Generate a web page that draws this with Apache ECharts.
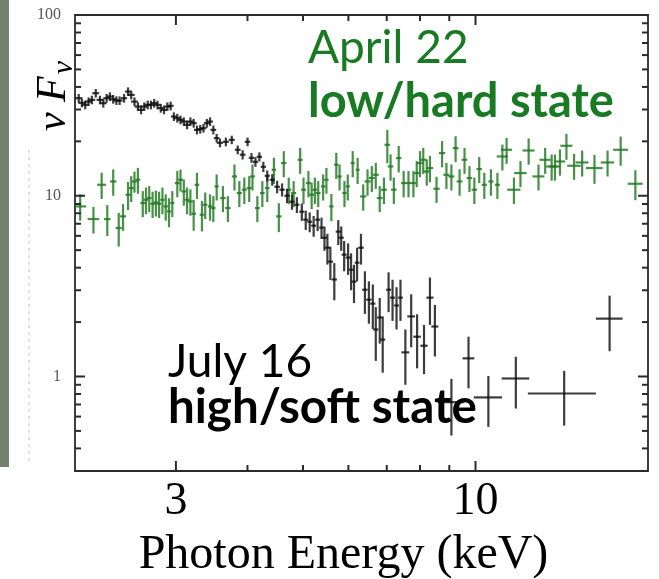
<!DOCTYPE html>
<html><head><meta charset="utf-8">
<script src="https://cdn.jsdelivr.net/npm/echarts@6/dist/echarts.min.js"></script>
<style>html,body{margin:0;padding:0;background:#fff}#c{width:659px;height:579px}</style>
</head><body><div id="c"></div>
<script>
// ---------- July 16 (high/soft state), black ----------
const julyE = [
 2.030, 2.056, 2.084, 2.112, 2.140, 2.174, 2.211, 2.241, 2.271, 2.301,
 2.332, 2.362, 2.393, 2.436, 2.475, 2.507, 2.540, 2.575, 2.608, 2.642,
 2.679, 2.714, 2.749, 2.786, 2.823, 2.860, 2.899, 2.938, 2.976, 3.017,
 3.056, 3.097, 3.138, 3.180, 3.222, 3.265, 3.308, 3.352, 3.397, 3.441,
 3.487, 3.534, 3.581, 3.667, 3.755, 3.846, 3.923, 4.001, 4.065, 4.130,
 4.196, 4.263, 4.331, 4.418, 4.506, 4.596, 4.689, 4.783, 4.878, 4.976,
 5.055, 5.136, 5.218, 5.302, 5.386, 5.450, 5.515, 5.581, 5.670, 5.761,
 5.830, 5.899, 5.993, 6.065, 6.137, 6.213, 6.311, 6.412, 6.515, 6.619,
 6.698, 6.805, 6.887, 7.052, 7.165, 7.281, 7.397, 7.544, 7.722, 7.908,
 8.131, 8.327, 8.494, 9.077, 9.723, 10.53, 11.76, 14.28, 17.14
];
const julyF = [
 34.66, 32.66, 31.83, 33.19, 33.91, 36.93, 33.91, 32.53, 34.66, 35.38,
 34.22, 33.62, 33.62, 34.66, 37.70, 36.14, 33.19, 31.15, 29.87, 31.15,
 31.83, 31.83, 32.53, 31.83, 30.52, 29.87, 31.15, 31.43, 27.43, 26.88,
 26.30, 25.73, 24.68, 25.73, 25.21, 23.15, 23.36, 23.66, 25.21, 25.73,
 23.15, 20.84, 19.63, 19.88, 20.39, 17.96, 16.86, 19.88, 16.22, 15.41,
 16.43, 14.46, 12.90, 12.26, 11.21, 10.80, 10.00, 9.27, 8.92, 8.16,
 7.37, 7.18, 6.83, 7.37, 6.66, 5.86, 5.16, 4.32, 3.44, 6.33,
 5.86, 4.72, 4.55, 3.90, 3.35, 4.26, 5.16, 3.02, 2.66, 2.53,
 1.82, 2.12, 1.60, 3.02, 2.73, 2.47, 2.73, 1.36, 2.15, 1.66,
 1.48, 2.73, 1.89, 0.721, 1.26, 0.766, 0.975, 0.805, 2.09
];
const julyEErr = [
 0.03, 0.03, 0.03, 0.03, 0.03, 0.03, 0.03, 0.03, 0.03, 0.03,
 0.03, 0.03, 0.03, 0.03, 0.03, 0.035, 0.035, 0.035, 0.035, 0.035,
 0.035, 0.035, 0.035, 0.035, 0.035, 0.035, 0.035, 0.035, 0.035, 0.04,
 0.04, 0.04, 0.04, 0.04, 0.04, 0.04, 0.04, 0.04, 0.04, 0.04,
 0.04, 0.04, 0.045, 0.045, 0.045, 0.045, 0.045, 0.045, 0.045, 0.045,
 0.045, 0.045, 0.045, 0.045, 0.05, 0.05, 0.05, 0.05, 0.05, 0.05,
 0.05, 0.05, 0.05, 0.05, 0.05, 0.06, 0.06, 0.06, 0.06, 0.06,
 0.06, 0.06, 0.06, 0.06, 0.06, 0.06, 0.07, 0.07, 0.07, 0.07,
 0.07, 0.07, 0.07, 0.07, 0.07, 0.07, 0.07, 0.12, 0.12, 0.12,
 0.12, 0.12, 0.12, 0.48, 0.23, 0.60, 0.65, 1.94, 0.92
];
const julyFErr = [
 1.9, 1.8, 1.75, 1.8, 1.85, 2.0, 1.85, 1.8, 1.9, 1.95,
 1.9, 1.85, 1.85, 1.9, 2.05, 2.0, 1.8, 1.7, 1.65, 1.7,
 1.75, 1.75, 1.8, 1.75, 1.7, 1.65, 1.7, 1.75, 1.5, 1.5,
 1.45, 1.4, 1.35, 1.4, 1.4, 1.3, 1.3, 1.3, 1.4, 1.4,
 1.3, 1.15, 1.1, 1.1, 1.1, 1.0, 1.0, 1.1, 1.0, 0.95,
 0.95, 0.95, 0.9, 0.9, 0.9, 0.9, 0.9, 0.9, 0.9, 0.9,
 0.9, 0.9, 0.9, 1.0, 0.9, 0.9, 1.0, 0.9, 0.8, 1.0,
 0.9, 0.9, 0.9, 0.9, 0.8, 0.9, 1.0, 0.8, 0.7, 0.7,
 0.6, 0.6, 0.55, 0.75, 0.7, 0.65, 0.7, 0.46, 0.7, 0.55,
 0.45, 0.8, 0.6, 0.25, 0.40, 0.24, 0.31, 0.27, 0.71
];

// ---------- April 22 (low/hard state), green ----------
const aprilE = [
 2.042, 2.154, 2.226, 2.277, 2.332, 2.384, 2.426, 2.475, 2.507, 2.540,
 2.575, 2.626, 2.660, 2.695, 2.732, 2.768, 2.804, 2.842, 2.880, 2.918,
 2.957, 3.017, 3.056, 3.097, 3.138, 3.180, 3.222, 3.265, 3.331, 3.375,
 3.441, 3.487, 3.534, 3.624, 3.697, 3.796, 3.871, 3.949, 4.028, 4.081,
 4.162, 4.246, 4.331, 4.448, 4.537, 4.628, 4.721, 4.815, 4.943, 5.010,
 5.110, 5.176, 5.244, 5.315, 5.421, 5.493, 5.603, 5.715, 5.791, 5.906,
 5.985, 6.105, 6.227, 6.368, 6.480, 6.592, 6.698, 6.805, 6.922, 7.016,
 7.108, 7.202, 7.345, 7.492, 7.639, 7.792, 7.897, 8.001, 8.106, 8.221,
 8.327, 8.550, 8.743, 8.897, 9.077, 9.232, 9.380, 9.568, 9.760, 9.954,
 10.15, 10.36, 10.64, 10.92, 11.14, 11.33, 11.67, 11.98, 12.38, 12.88,
 13.23, 13.58, 13.76, 14.04, 14.41, 14.86, 15.35, 16.13, 17.00, 17.92,
 19.01
];
const aprilF = [
 8.73, 7.43, 11.50, 7.43, 12.00, 6.63, 7.69, 10.13, 11.03, 12.00,
 12.26, 9.11, 9.50, 9.71, 9.03, 9.18, 9.03, 9.50, 8.73, 8.19,
 9.11, 11.75, 12.26, 10.56, 9.50, 9.30, 7.95, 11.50, 7.85, 8.92,
 8.73, 8.55, 11.26, 9.71, 8.55, 12.79, 10.35, 10.80, 11.03, 12.79,
 8.55, 10.35, 11.03, 13.92, 7.69, 15.16, 10.80, 10.35, 15.81, 10.80,
 11.75, 10.13, 10.80, 10.35, 11.26, 12.26, 8.73, 14.84, 12.79, 10.35,
 11.26, 15.16, 13.92, 9.91, 12.00, 12.53, 13.06, 9.71, 10.80, 19.13,
 14.52, 10.80, 16.16, 11.75, 11.75, 11.75, 13.35, 15.16, 15.81, 13.62,
 14.23, 10.93, 17.22, 13.06, 12.79, 18.34, 12.00, 15.81, 12.53, 10.80,
 14.05, 11.50, 12.00, 11.50, 16.49, 17.96, 10.80, 13.35, 17.80, 12.79,
 15.81, 14.52, 14.52, 15.47, 18.90, 14.65, 15.28, 14.23, 15.28, 17.96,
 11.65
];
const aprilEErr = [
 0.05, 0.05, 0.04, 0.03, 0.03, 0.03, 0.03, 0.025, 0.025, 0.025,
 0.025, 0.025, 0.025, 0.025, 0.025, 0.025, 0.025, 0.025, 0.025, 0.025,
 0.025, 0.03, 0.03, 0.03, 0.03, 0.03, 0.03, 0.03, 0.03, 0.03,
 0.03, 0.03, 0.03, 0.04, 0.04, 0.04, 0.04, 0.04, 0.04, 0.04,
 0.04, 0.04, 0.04, 0.04, 0.05, 0.05, 0.05, 0.05, 0.05, 0.05,
 0.05, 0.05, 0.05, 0.05, 0.05, 0.05, 0.05, 0.05, 0.05, 0.05,
 0.05, 0.05, 0.05, 0.08, 0.08, 0.08, 0.08, 0.08, 0.08, 0.08,
 0.08, 0.08, 0.08, 0.08, 0.08, 0.08, 0.08, 0.11, 0.11, 0.11,
 0.11, 0.11, 0.11, 0.11, 0.11, 0.11, 0.11, 0.11, 0.11, 0.11,
 0.11, 0.11, 0.11, 0.11, 0.25, 0.25, 0.31, 0.30, 0.30, 0.31,
 0.30, 0.30, 0.30, 0.30, 0.35, 0.40, 0.40, 0.54, 0.46, 0.54,
 0.57
];
const aprilFErr = [
 1.45, 1.25, 1.9, 1.45, 2.0, 1.4, 1.3, 1.8, 1.8, 1.6,
 2.0, 1.5, 1.6, 1.6, 1.5, 1.5, 1.5, 1.6, 1.45, 1.5,
 1.5, 1.95, 1.7, 1.75, 1.6, 1.55, 1.55, 1.9, 1.5, 1.5,
 1.45, 1.4, 1.85, 1.6, 1.4, 2.1, 1.7, 1.8, 1.8, 2.1,
 1.4, 1.7, 1.8, 2.3, 1.4, 2.5, 1.8, 1.7, 2.6, 1.8,
 1.95, 1.7, 1.8, 1.7, 1.85, 2.0, 1.5, 2.45, 2.1, 1.7,
 1.85, 2.5, 2.3, 1.65, 2.0, 2.05, 2.15, 1.6, 1.8, 4.0,
 2.4, 1.8, 2.7, 1.95, 1.95, 1.95, 2.2, 2.5, 2.6, 2.25,
 2.35, 1.8, 2.85, 2.15, 2.1, 3.0, 2.0, 2.6, 2.05, 1.8,
 2.3, 1.9, 2.0, 1.9, 2.7, 2.95, 1.8, 2.2, 2.95, 2.1,
 2.6, 2.4, 2.4, 2.55, 3.1, 2.4, 2.5, 2.6, 2.5, 3.3,
 2.2
];

// ---------- axes ----------
const xMajorTicks = [3, 10];
const xMinorTicks = [4, 5, 6, 7, 8, 9];
const yMajorTicks = [1, 10, 100];
const yMinorTicks = [0.4, 0.5, 0.6, 0.7, 0.8, 0.9, 2, 3, 4, 5, 6, 7, 8, 9, 20, 30, 40, 50, 60, 70, 80, 90];
const xRange = [2, 20];
const yRange = [0.3, 100];

const SERIF = 'Liberation Serif';
const SANS = 'Lato';
const AXIS_COLOR = '#2a2a2a';
const MAJOR_LEN = 10, MINOR_LEN = 6, TICK_W = 2;

function items(E, F, dE, dF) { return E.map((e, i) => [e, F[i], dE[i], dF[i]]); }
function seg(x1, y1, x2, y2, color, width) {
  return { type: 'line', shape: { x1: x1, y1: y1, x2: x2, y2: y2 }, style: { stroke: color, lineWidth: width } };
}
function crossRenderer(color, width) {
  return function (params, api) {
    const e = api.value(0), f = api.value(1), de = api.value(2), df = api.value(3);
    const l = api.coord([e - de, f]), r = api.coord([e + de, f]);
    const t = api.coord([e, f + df]), b = api.coord([e, f - df]);
    return { type: 'group', children: [
      seg(l[0], l[1], r[0], r[1], color, width),
      seg(t[0], t[1], b[0], b[1], color, width)
    ]};
  };
}
// inward tick marks on all four sides, positioned through the log axes
function tickSeries(kind) {
  const major = kind === 'x' ? xMajorTicks : yMajorTicks;
  const minor = kind === 'x' ? xMinorTicks : yMinorTicks;
  const data = major.map(v => (kind === 'x' ? [v, 1] : [3, v]))
    .concat(minor.map(v => (kind === 'x' ? [v, 1] : [3, v])));
  return {
    type: 'custom', xAxisIndex: 0, yAxisIndex: 0, silent: true, clip: false, z: 5,
    encode: { x: 0, y: 1 },
    data: data,
    renderItem: function (params, api) {
      const len = params.dataIndex < major.length ? MAJOR_LEN : MINOR_LEN;
      if (kind === 'x') {
        const v = api.value(0);
        const b = api.coord([v, yRange[0]]), t = api.coord([v, yRange[1]]);
        return { type: 'group', children: [
          seg(b[0], b[1], b[0], b[1] - len, AXIS_COLOR, TICK_W),
          seg(t[0], t[1], t[0], t[1] + len, AXIS_COLOR, TICK_W) ] };
      }
      const v = api.value(1);
      const l = api.coord([xRange[0], v]), r = api.coord([xRange[1], v]);
      return { type: 'group', children: [
        seg(l[0], l[1], l[0] + len, l[1], AXIS_COLOR, TICK_W),
        seg(r[0], r[1], r[0] - len, r[1], AXIS_COLOR, TICK_W) ] };
    }
  };
}

function xAx(pos, labels) {
  return {
    type: 'log', logBase: 10, position: pos, min: xRange[0], max: xRange[1],
    axisLine: { show: true, onZero: false, lineStyle: { color: AXIS_COLOR, width: 1.8 } },
    axisTick: { show: false },
    axisLabel: labels ? { show: true, customValues: xMajorTicks, fontFamily: SERIF, fontSize: 46, color: '#000', margin: 8,
      formatter: v => String(Math.round(v)) } : { show: false },
    splitLine: { show: false }, minorTick: { show: false }
  };
}
function yAx(pos, labels) {
  return {
    type: 'log', logBase: 10, position: pos, min: yRange[0], max: yRange[1],
    axisLine: { show: true, onZero: false, lineStyle: { color: AXIS_COLOR, width: 1.8 } },
    axisTick: { show: false },
    axisLabel: labels ? { show: true, customValues: yMajorTicks, fontFamily: SERIF, fontSize: 16, color: '#555', margin: 14,
      formatter: v => String(Math.round(v)) } : { show: false },
    splitLine: { show: false }, minorTick: { show: false }
  };
}

const xAxes = [xAx('bottom', true), xAx('top', false)];
xAxes[0].name = 'Photon Energy (keV)';
xAxes[0].nameLocation = 'middle';
xAxes[0].nameGap = 60;
xAxes[0].nameTextStyle = { fontFamily: SERIF, fontSize: 48, color: '#000', padding: [0, 36, 0, 0] };
const yAxes = [yAx('left', true), yAx('right', false)];

const chart = echarts.init(document.getElementById('c'), null, { renderer: 'canvas' });
chart.setOption({
  animation: false,
  backgroundColor: '#fff',
  grid: { left: 75, top: 15, right: 11, bottom: 108, outerBoundsMode: 'none', containLabel: false },
  xAxis: xAxes,
  yAxis: yAxes,
  series: [
    tickSeries('x'),
    tickSeries('y'),
    { name: 'April 22', type: 'custom', xAxisIndex: 0, yAxisIndex: 0, clip: true,
      renderItem: crossRenderer('rgba(32,120,32,0.82)', 2.2), encode: { x: 0, y: 1 },
      data: items(aprilE, aprilF, aprilEErr, aprilFErr) },
    { name: 'July 16', type: 'custom', xAxisIndex: 0, yAxisIndex: 0, clip: true,
      renderItem: crossRenderer('rgba(12,12,12,0.8)', 2.2), encode: { x: 0, y: 1 },
      data: items(julyE, julyF, julyEErr, julyFErr) }
  ],
  graphic: [
    { type: 'rect', shape: { x: 0, y: 0, width: 9, height: 467 }, style: { fill: '#74806f' }, silent: true },
    { type: 'line', shape: { x1: 29, y1: 150, x2: 29, y2: 462 }, style: { stroke: '#b4c2d6', lineWidth: 1, lineDash: [3, 4] }, silent: true },
    { type: 'text', x: 54, y: 96, rotation: Math.PI / 2, z: 10,
      style: { text: '{a|ν F}{b|ν}', align: 'center', verticalAlign: 'middle',
        rich: {
          a: { fontFamily: SERIF, fontStyle: 'italic', fontSize: 42, fill: '#000' },
          b: { fontFamily: SERIF, fontStyle: 'italic', fontSize: 30, fill: '#000', padding: [20, 0, 0, 2] }
        } } },
    { type: 'text', x: 308, y: 48, z: 10, style: { text: 'April 22', fontFamily: SANS, fontSize: 46, fill: '#187a23', align: 'left', verticalAlign: 'middle' } },
    { type: 'text', x: 308, y: 102, z: 10, style: { text: 'low/hard state', fontFamily: SANS, fontWeight: 'bold', fontSize: 47, fill: '#187a23', align: 'left', verticalAlign: 'middle' } },
    { type: 'text', x: 168, y: 362, z: 10, style: { text: 'July 16', fontFamily: SANS, fontSize: 46, fill: '#000', align: 'left', verticalAlign: 'middle' } },
    { type: 'text', x: 168, y: 408, z: 10, style: { text: 'high/soft state', fontFamily: SANS, fontWeight: 'bold', fontSize: 47.5, fill: '#000', align: 'left', verticalAlign: 'middle' } }
  ]
});
</script>
</body></html>
